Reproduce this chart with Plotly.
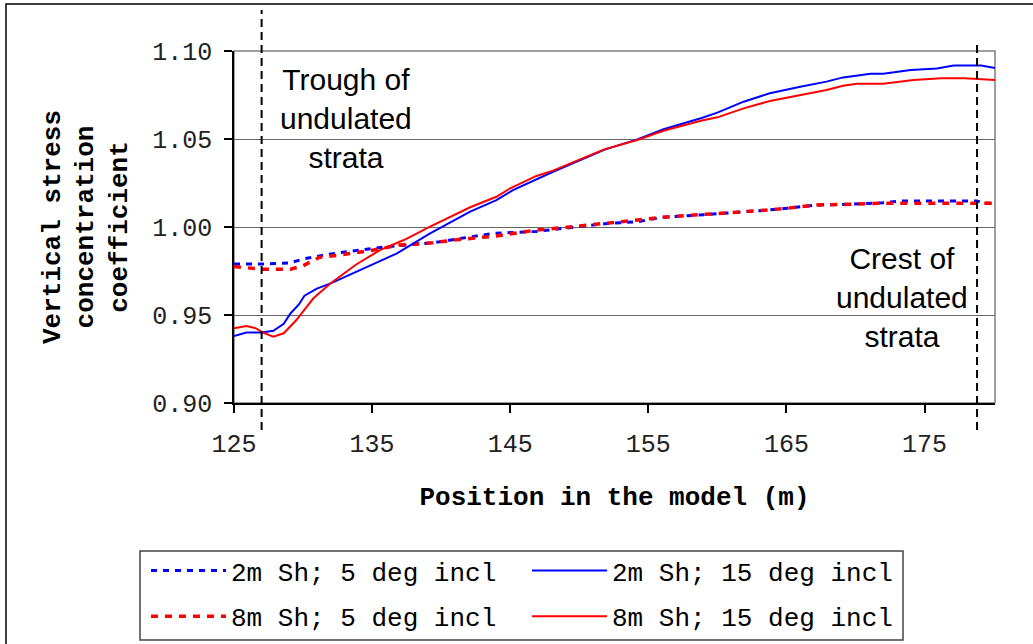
import plotly.graph_objects as go

# ---- data ----
x_2m_5 = [125.0, 127.0, 129.0, 130.1, 132.0, 133.2, 135.1, 137.0, 139.4, 141.0, 143.8, 146.9, 149.1,
          152.0, 154.2, 156.0, 159.0, 161.2, 163.1, 165.0, 167.2, 169.6, 172.0, 173.3, 175.7, 178.8,
          179.3, 180.1]
y_2m_5 = [0.979, 0.979, 0.9795, 0.982, 0.9847, 0.986, 0.9879, 0.9895, 0.991, 0.993, 0.9964, 0.9975,
          0.9995, 1.002, 1.003, 1.0055, 1.007, 1.0081, 1.0093, 1.0106, 1.0125, 1.0129, 1.0138, 1.0148,
          1.0148, 1.0148, 1.0135, 1.0135]

x_8m_5 = [125.0, 127.1, 129.1, 130.0, 131.2, 132.7, 135.1, 137.0, 139.4, 140.9, 144.0, 146.9, 149.1,
          152.0, 154.2, 155.9, 159.0, 161.2, 163.1, 165.0, 167.2, 169.6, 172.0, 175.7, 180.1]
y_8m_5 = [0.9775, 0.976, 0.976, 0.978, 0.9828, 0.9841, 0.9869, 0.9898, 0.991, 0.9926, 0.9949, 0.9983,
          0.9998, 1.002, 1.004, 1.0055, 1.007, 1.0081, 1.0093, 1.0106, 1.0125, 1.0129, 1.0135, 1.0135,
          1.0135]

x_2m_15 = [125.0, 125.9, 127.0, 127.85, 128.6, 129.1, 129.7, 130.1, 131.0, 132.0, 134.4, 136.8, 139.2,
           142.1, 144.0, 145.2, 148.1, 151.8, 154.2, 156.1, 158.8, 160.0, 161.9, 163.8, 166.0, 167.9,
           169.1, 171.1, 172.0, 174.0, 175.9, 177.1, 179.1, 180.1]
y_2m_15 = [0.938, 0.940, 0.940, 0.941, 0.945, 0.951, 0.956, 0.961, 0.965, 0.968, 0.9765, 0.985, 0.9964,
           1.0087, 1.0153, 1.021, 1.0314, 1.0438, 1.0498, 1.0555, 1.0618, 1.065, 1.0712, 1.076, 1.0797,
           1.0826, 1.085, 1.0871, 1.0871, 1.0892, 1.0901, 1.0918, 1.0918, 1.0903]

x_8m_15 = [125.0, 125.9, 126.6, 127.1, 127.85, 128.6, 129.5, 130.75, 132.0, 133.9, 135.6, 137.3, 139.2,
           142.1, 144.0, 145.0, 146.9, 148.1, 151.8, 154.2, 156.1, 158.8, 160.0, 161.9, 163.8, 166.0,
           167.9, 169.1, 170.1, 172.0, 174.2, 176.2, 177.9, 180.1]
y_8m_15 = [0.9424, 0.9437, 0.9424, 0.940, 0.9377, 0.9396, 0.947, 0.9595, 0.968, 0.979, 0.987, 0.9926,
           1.0002, 1.0112, 1.0172, 1.022, 1.029, 1.032, 1.0441, 1.0494, 1.0547, 1.0604, 1.0623, 1.0674,
           1.0716, 1.075, 1.0778, 1.0803, 1.0814, 1.0814, 1.0835, 1.0845, 1.0845, 1.0835]

series_names = ["2m Sh; 5 deg incl", "8m Sh; 5 deg incl", "2m Sh; 15 deg incl", "8m Sh; 15 deg incl"]
trough_x = 127.0
crest_x = 178.8
trough_label = "Trough of<br>undulated<br>strata"
crest_label = "Crest of<br>undulated<br>strata"
x_ticks = [125, 135, 145, 155, 165, 175]
y_ticks = [0.90, 0.95, 1.00, 1.05, 1.10]

# ---- figure ----
MONO = "Liberation Mono, Courier New, monospace"
SANS = "Liberation Sans, Arial, sans-serif"
BLUE = "#0000FF"
RED = "#FF0000"

fig = go.Figure()
fig.add_trace(go.Scatter(x=x_2m_5, y=y_2m_5, mode="lines", name=series_names[0],
                         line=dict(color=BLUE, width=3, dash="6px,6px"),
                         legend="legend", legendgroup="a"))
fig.add_trace(go.Scatter(x=x_8m_5, y=y_8m_5, mode="lines", name=series_names[1],
                         line=dict(color=RED, width=3.5, dash="7px,7px"),
                         legend="legend", legendgroup="b"))
fig.add_trace(go.Scatter(x=x_2m_15, y=y_2m_15, mode="lines", name=series_names[2],
                         line=dict(color=BLUE, width=2),
                         legend="legend2", legendgroup="c"))
fig.add_trace(go.Scatter(x=x_8m_15, y=y_8m_15, mode="lines", name=series_names[3],
                         line=dict(color=RED, width=2),
                         legend="legend2", legendgroup="d"))

L, R, T, B = 234, 38, 51, 241
W, H = 1033, 644
pw, ph = W - L - R, H - T - B

def px_x(p):
    return (p - L) / pw

def px_y(p):
    return (H - B - p) / ph

shapes = [
    # outer chart border (extends beyond page right/bottom)
    dict(type="rect", xref="paper", yref="paper", x0=px_x(6), x1=px_x(1100), y0=px_y(700), y1=px_y(4),
         line=dict(color="black", width=1.5), layer="below"),
    # plot area border
    dict(type="rect", xref="paper", yref="paper", x0=0, x1=1, y0=0, y1=1,
         line=dict(color="#808080", width=1.5), layer="below"),
    # vertical marker lines
    dict(type="line", xref="x", yref="paper", x0=trough_x, x1=trough_x, y0=px_y(430), y1=px_y(10),
         line=dict(color="black", width=2, dash="8px,5px")),
    dict(type="line", xref="x", yref="paper", x0=crest_x, x1=crest_x, y0=px_y(430), y1=px_y(45),
         line=dict(color="black", width=2, dash="8px,5px")),
    # legend box
    dict(type="rect", xref="paper", yref="paper", x0=px_x(140), x1=px_x(903), y0=px_y(640), y1=px_y(551),
         line=dict(color="#444", width=1.5)),
]

fig.update_layout(
    width=W, height=H,
    margin=dict(l=L, r=R, t=T, b=B, autoexpand=False),
    paper_bgcolor="white", plot_bgcolor="white",
    shapes=shapes,
    annotations=[
        dict(x=133.1, y=1.0614, xref="x", yref="y", text=trough_label, showarrow=False,
             font=dict(family=SANS, size=30, color="black"), align="center"),
        dict(x=173.4, y=0.9597, xref="x", yref="y", text=crest_label, showarrow=False,
             font=dict(family=SANS, size=30, color="black"), align="center"),
    ],
    legend=dict(x=px_x(146), y=px_y(547), xanchor="left", yanchor="top",
                font=dict(family=MONO, size=26, color="black"),
                bgcolor="rgba(0,0,0,0)", borderwidth=0, tracegroupgap=9, itemwidth=75,
                traceorder="grouped"),
    legend2=dict(x=px_x(527), y=px_y(547), xanchor="left", yanchor="top",
                 font=dict(family=MONO, size=26, color="black"),
                 bgcolor="rgba(0,0,0,0)", borderwidth=0, tracegroupgap=9, itemwidth=75,
                 traceorder="grouped"),
    showlegend=True,
)

fig.update_xaxes(
    range=[125, 180.1], tickvals=x_ticks, ticktext=[str(v) for v in x_ticks],
    ticks="outside", ticklen=8, tickcolor="black", tickwidth=1.5,
    showline=True, linecolor="black", linewidth=1.5, showgrid=False, zeroline=False,
    tickfont=dict(family=MONO, size=25, color="#222"), ticklabelstandoff=9,
    title=dict(text="<b>Position in the model (m)</b>", font=dict(family=MONO, size=26, color="black"),
               standoff=28),
)
fig.update_yaxes(
    range=[0.90, 1.10], tickvals=y_ticks, ticktext=[f"{v:.2f}" for v in y_ticks],
    ticks="outside", ticklen=8, tickcolor="black", tickwidth=1.5,
    showline=True, linecolor="black", linewidth=1.5,
    showgrid=True, gridcolor="#666", gridwidth=1.2, zeroline=False,
    tickfont=dict(family=MONO, size=25, color="#222"), ticklabelstandoff=7,
    title=dict(text="<b>Vertical stress<br>concentration<br>coefficient</b>",
               font=dict(family=MONO, size=26, color="black"), standoff=17),
)

fig.write_html("out.html", config={"displayModeBar": False},
               post_script="document.body.style.margin='0px';")
